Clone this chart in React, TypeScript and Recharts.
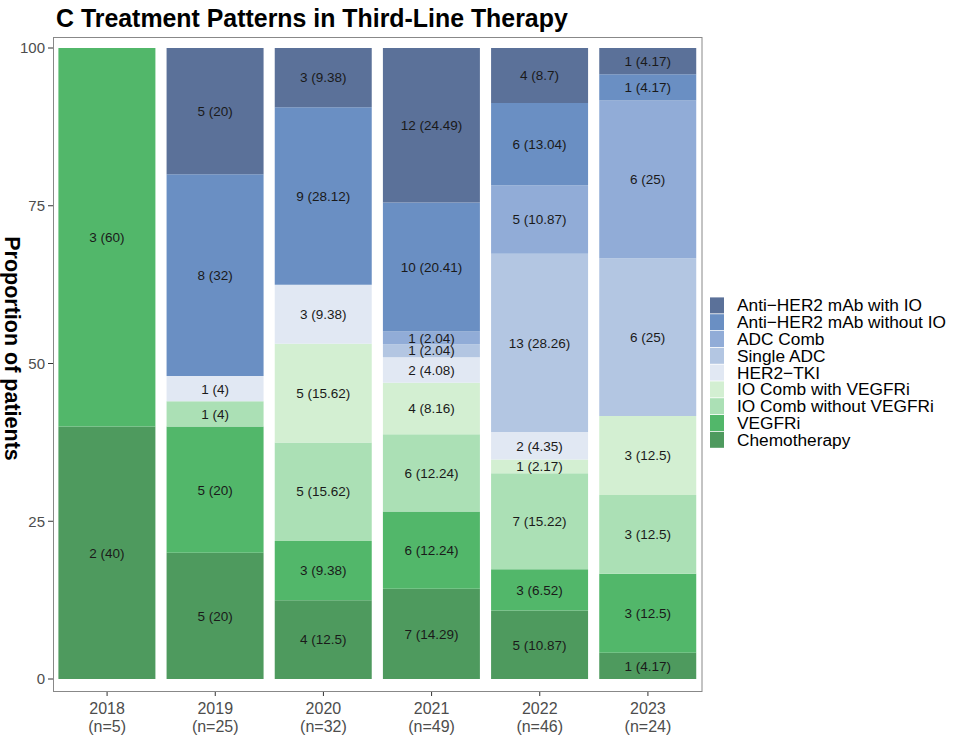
import { BarChart, Bar, XAxis, YAxis, LabelList } from 'recharts'

const FONT = '"Liberation Sans", Arial, Helvetica, sans-serif'

const years = ['2018', '2019', '2020', '2021', '2022', '2023']
const nTotals = [5, 25, 32, 49, 46, 24]

// counts per year, one array per treatment (stack order: bottom to top)
const chemoCounts = [2, 5, 4, 7, 5, 1]
const vegfriCounts = [3, 5, 3, 6, 3, 3]
const ioNoVegfriCounts = [0, 1, 5, 6, 7, 3]
const ioVegfriCounts = [0, 0, 5, 4, 1, 3]
const tkiCounts = [0, 1, 3, 2, 2, 0]
const singleAdcCounts = [0, 0, 0, 1, 13, 6]
const adcCombCounts = [0, 0, 0, 1, 5, 6]
const mabNoIoCounts = [0, 8, 9, 10, 6, 1]
const mabIoCounts = [0, 5, 3, 12, 4, 1]

// percentages as printed on the bars
const chemoPct = [40, 20, 12.5, 14.29, 10.87, 4.17]
const vegfriPct = [60, 20, 9.38, 12.24, 6.52, 12.5]
const ioNoVegfriPct = [0, 4, 15.62, 12.24, 15.22, 12.5]
const ioVegfriPct = [0, 0, 15.62, 8.16, 2.17, 12.5]
const tkiPct = [0, 4, 9.38, 4.08, 4.35, 0]
const singleAdcPct = [0, 0, 0, 2.04, 28.26, 25]
const adcCombPct = [0, 0, 0, 2.04, 10.87, 25]
const mabNoIoPct = [0, 32, 28.12, 20.41, 13.04, 4.17]
const mabIoPct = [0, 20, 9.38, 24.49, 8.7, 4.17]

const series = [
  { key: 'chemo', name: 'Chemotherapy', color: '#4e9a5e', counts: chemoCounts, pct: chemoPct },
  { key: 'vegfri', name: 'VEGFRi', color: '#52b76a', counts: vegfriCounts, pct: vegfriPct },
  { key: 'ioNoVegfri', name: 'IO Comb without VEGFRi', color: '#abe0b5', counts: ioNoVegfriCounts, pct: ioNoVegfriPct },
  { key: 'ioVegfri', name: 'IO Comb with VEGFRi', color: '#d3efd2', counts: ioVegfriCounts, pct: ioVegfriPct },
  { key: 'tki', name: 'HER2\u2212TKI', color: '#e1e8f3', counts: tkiCounts, pct: tkiPct },
  { key: 'singleAdc', name: 'Single ADC', color: '#b3c6e2', counts: singleAdcCounts, pct: singleAdcPct },
  { key: 'adcComb', name: 'ADC Comb', color: '#91acd7', counts: adcCombCounts, pct: adcCombPct },
  { key: 'mabNoIo', name: 'Anti\u2212HER2 mAb without IO', color: '#6a8fc3', counts: mabNoIoCounts, pct: mabNoIoPct },
  { key: 'mabIo', name: 'Anti\u2212HER2 mAb with IO', color: '#5b7199', counts: mabIoCounts, pct: mabIoPct },
]

const data = years.map((year, i) => {
  const row: Record<string, string | number> = { year }
  series.forEach((s) => {
    row[s.key] = s.pct[i]
    row[s.key + 'Label'] = s.counts[i] ? `${s.counts[i]} (${s.pct[i]})` : ''
  })
  return row
})

function YearTick(props: any) {
  const { x, y, payload } = props
  const idx = years.indexOf(payload.value)
  return (
    <text x={x} y={y} textAnchor="middle" fill="#4d4d4d" fontSize={16} fontFamily={FONT}>
      <tspan x={x} dy={15.5}>{payload.value}</tspan>
      <tspan x={x} dy={18}>(n={nTotals[idx]})</tspan>
    </text>
  )
}

function SegmentLabel(props: any) {
  const { x, y, width, height, value } = props
  if (!value) return null
  return (
    <text
      x={Number(x) + Number(width) / 2}
      y={Number(y) + Number(height) / 2}
      dy={4.8}
      textAnchor="middle"
      fill="#1a1a1a"
      fontSize={13.5}
      fontFamily={FONT}
    >
      {value}
    </text>
  )
}

const legendItems = [...series].reverse()

export default function App() {
  return (
    <div style={{ position: 'relative', width: 960, height: 739, fontFamily: FONT, background: '#fff' }}>
      <style>{'body{margin:0;overflow:hidden;}'}</style>
      <BarChart
        width={960}
        height={739}
        data={data}
        margin={{ top: 37, right: 258, bottom: 0, left: 0 }}
        barCategoryGap="5%"
      >
        <XAxis
          dataKey="year"
          height={48}
          axisLine={false}
          tickSize={5}
          tickMargin={2}
          tickLine={{ stroke: '#333', strokeWidth: 1 }}
          tick={<YearTick />}
          interval={0}
        />
        <YAxis
          type="number"
          domain={[0, 100]}
          allowDataOverflow
          ticks={[0, 25, 50, 75, 100]}
          width={53}
          padding={{ top: 11, bottom: 12 }}
          axisLine={false}
          tickSize={5}
          tickMargin={3}
          tickLine={{ stroke: '#333', strokeWidth: 1 }}
          tick={{ fill: '#4d4d4d', fontSize: 15, fontFamily: FONT }}
        />
        {series.map((s) => (
          <Bar key={s.key} dataKey={s.key} name={s.name} stackId="a" fill={s.color} isAnimationActive={false}>
            <LabelList dataKey={s.key + 'Label'} content={<SegmentLabel />} />
          </Bar>
        ))}
      </BarChart>
      <svg
        width={960}
        height={739}
        style={{ position: 'absolute', left: 0, top: 0, pointerEvents: 'none' }}
      >
        <text x={56} y={27} fontSize={24.9} fontWeight="bold" fill="#000" fontFamily={FONT}>
          C Treatment Patterns in Third-Line Therapy
        </text>
        <text
          transform="translate(5, 348.5) rotate(90)"
          textAnchor="middle"
          fontSize={21.5}
          fontWeight="bold"
          fill="#000"
          fontFamily={FONT}
        >
          Proportion of patients
        </text>
        <rect x={53.5} y={37.5} width={648.5} height={654} fill="none" stroke="#888" strokeWidth={1} />
        {legendItems.map((s, i) => (
          <g key={s.key}>
            <rect x={710} y={297 + i * 16.8 + 0.4} width={14} height={16} fill={s.color} />
            <text x={737} y={297 + i * 16.8 + 8.4 + 6} fontSize={17.3} fill="#000" fontFamily={FONT}>
              {s.name}
            </text>
          </g>
        ))}
      </svg>
    </div>
  )
}
